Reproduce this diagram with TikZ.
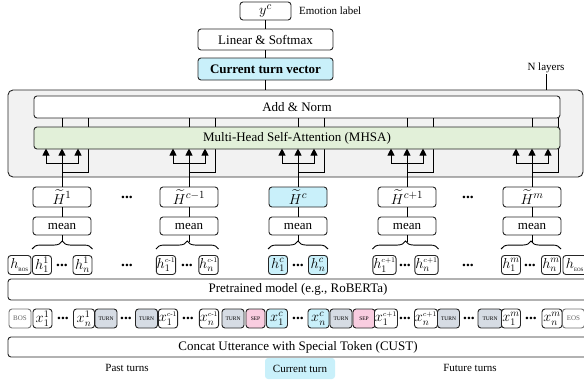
\documentclass[tikz,border=0pt]{standalone}
\usepackage{amsmath}
\usepackage{amssymb}
\usepackage{fontspec}
\setmainfont{Liberation Serif}
\usetikzlibrary{arrows.meta,calc,decorations.pathreplacing}
\definecolor{cyanfill}{HTML}{C9F0FA}
\definecolor{greenfill}{HTML}{E2F0D9}
\definecolor{turngray}{HTML}{D6DCE4}
\definecolor{seppink}{HTML}{F9CDE0}
\definecolor{layergray}{HTML}{F2F2F2}
\newcommand{\sss}[1]{{\scriptscriptstyle #1}}

\begin{document}
\begin{tikzpicture}[x=1pt,y=-1pt]
\tikzset{box/.style = {draw=black!85,rounded corners=3pt,line width=0.9pt,inner sep=1pt,font=\fontsize{13}{15}\selectfont}}
\tikzset{tok/.style = {box,fill=white,minimum width=19pt,minimum height=19pt,inner sep=0.4pt,font=\fontsize{14}{16}\selectfont}}
\tikzset{hvec/.style = {box,minimum width=58pt,minimum height=20pt,font=\fontsize{15}{17}\selectfont}}
\tikzset{special/.style = {tok,minimum width=22pt,font=\fontsize{5.5}{6}\selectfont}}
\tikzset{endtok/.style = {tok,draw=black!55,text=black!60,minimum width=22pt,font=\fontsize{7}{8}\selectfont}}
\tikzset{dots/.style = {inner sep=0pt,font=\fontsize{15.5}{17}\selectfont\bfseries}}
\tikzset{note/.style = {inner sep=1pt,font=\fontsize{11}{13}\selectfont}}
\tikzset{wire/.style = {line width=0.9pt}}
\tikzset{edge/.style = {-{Triangle[length=7pt,width=7pt]},line width=0.9pt}}
\useasboundingbox (0,0) rectangle (584,383);
% output head
\node[box,minimum width=51pt,minimum height=18pt,font=\fontsize{15}{17}\selectfont] (yc) at (265.5,11) {$y^c$};
\node[note,anchor=west] (emo) at (298,11) {Emotion label};
\node[box,minimum width=135pt,minimum height=21pt] (lin) at (265.5,39.5) {Linear \& Softmax};
\node[box,fill=cyanfill,minimum width=135pt,minimum height=22pt,font=\fontsize{13}{15}\selectfont\bfseries] (ctv) at (265.5,69) {Current turn vector};
\node[note] (nlay) at (546,68) {N layers};
% transformer layer
\node[box,fill=layergray,rounded corners=5pt,minimum width=575pt,minimum height=87pt] (layer) at (295.5,133.5) {};
\node[box,fill=white,minimum width=526pt,minimum height=22pt] (addn) at (297,107) {Add \& Norm};
\draw[wire] (yc) -- (lin);
\draw[wire] (lin) -- (ctv);
\draw[wire] (ctv) -- (layer.north -| ctv);
\draw[wire] (nlay.south) -- (layer.north -| nlay.south);
% turn vectors
\node[hvec] (Ha) at (62,197) {$\widetilde{H}^{1}$};
\node[hvec] (Hb) at (189,197) {$\widetilde{H}^{c-1}$};
\node[hvec,fill=cyanfill] (Hc) at (298,197) {$\widetilde{H}^{c}$};
\node[hvec] (Hd) at (407,197) {$\widetilde{H}^{c+1}$};
\node[hvec] (He) at (532,197) {$\widetilde{H}^{m}$};
\node[dots] (Hab) at (127,197) {...};
\node[dots] (Hde) at (468,197) {...};
% mean pooling
\node[box,minimum width=58pt,minimum height=18pt] (ma) at (62,226) {mean};
\node[box,minimum width=58pt,minimum height=18pt] (mb) at (189,226) {mean};
\node[box,minimum width=58pt,minimum height=18pt] (mc) at (298,226) {mean};
\node[box,minimum width=58pt,minimum height=18pt] (md) at (407,226) {mean};
\node[box,minimum width=58pt,minimum height=18pt] (me) at (532,226) {mean};
% hidden states
\node[tok,minimum width=23pt] (hbos) at (19.5,265) {$h_{\text{\fontsize{5}{5}\selectfont BOS}}$};
\node[tok] (ha-1) at (42,265) {$h_1^1$};
\node[dots] (ha-d) at (62,265) {...};
\node[tok] (ha-n) at (82.5,265) {$h_n^1$};
\node[dots] (hab) at (127,265) {...};
\node[tok] (hb-1) at (166,265) {$h_1^{\sss{c\text{-}1}}$};
\node[dots] (hb-d) at (187,265) {...};
\node[tok] (hb-n) at (208.5,265) {$h_n^{\sss{c\text{-}1}}$};
\node[tok,fill=cyanfill] (hc-1) at (278,265) {$h_1^c$};
\node[dots] (hc-d) at (298,265) {...};
\node[tok,fill=cyanfill] (hc-n) at (318,265) {$h_n^c$};
\node[tok] (hd-1) at (384.5,265) {$h_1^{\sss{c+1}}$};
\node[dots] (hd-d) at (405,265) {...};
\node[tok] (hd-n) at (426.5,265) {$h_n^{\sss{c+1}}$};
\node[dots] (hde) at (468,265) {...};
\node[tok] (he-1) at (511,265) {$h_1^m$};
\node[dots] (he-d) at (530,265) {...};
\node[tok] (he-n) at (551,265) {$h_n^m$};
\node[tok,anchor=west,minimum width=24pt] (heos) at (562.5,265) {$h_{\text{\fontsize{5}{5}\selectfont EOS}}$};
% pooling and residual wires
\foreach \g in {a,b,c,d,e} {
  \draw[wire] (H\g) -- (m\g);
  \draw[wire,decorate,decoration={brace,amplitude=8pt}] ($(h\g-1.north west)+(0,-6)$) -- ($(h\g-n.north east)+(0,-6)$);
  \draw[wire] (m\g.south) -- ++(0,7);
  \draw[wire] ($(H\g.north)+(0,-14)$) -- ++(26,0) -- ++(0,-55);
}
\node[box,fill=greenfill,minimum width=526pt,minimum height=22pt] (mhsa) at (297,138) {Multi-Head Self-Attention (MHSA)};
\foreach \g in {a,b,c,d,e} {
  \draw[wire] (H\g.north) -- ++(0,-23) coordinate (j\g);
  \draw[wire] ($(j\g)+(-16,0)$) -- ($(j\g)+(16,0)$);
  \foreach \dx in {-16,0,16} \draw[edge] ($(j\g)+(\dx,0)$) -- ++(0,-15);
  \draw[wire] (mhsa.north -| H\g) -- (addn.south -| H\g);
}
% encoder
\node[box,minimum width=580pt,minimum height=21pt] (ptm) at (298,289.5) {Pretrained model (e.g., RoBERTa)};
% input tokens
\node[endtok] (xbos) at (20,318.5) {BOS};
\node[tok] (xa-1) at (42.5,318.5) {$x_1^1$};
\node[dots] (xa-d) at (63,318.5) {...};
\node[tok,minimum width=21pt] (xa-n) at (84,318.5) {$x_n^1$};
\node[special,fill=turngray] (t1) at (106,318.5) {TURN};
\node[dots] (xab) at (126,318.5) {...};
\node[special,fill=turngray] (t2) at (146.5,318.5) {TURN};
\node[tok] (xb-1) at (168,318.5) {$x_1^{\sss{c\text{-}1}}$};
\node[dots] (xb-d) at (188,318.5) {...};
\node[tok] (xb-n) at (209,318.5) {$x_n^{\sss{c\text{-}1}}$};
\node[special,fill=turngray] (t3) at (233,318.5) {TURN};
\node[special,fill=seppink,minimum width=19pt] (s1) at (255.5,318.5) {SEP};
\node[tok,fill=cyanfill,minimum width=21pt] (xc-1) at (277,318.5) {$x_1^c$};
\node[dots] (xc-d) at (298,318.5) {...};
\node[tok,fill=cyanfill,minimum width=21pt] (xc-n) at (318.5,318.5) {$x_n^c$};
\node[special,fill=turngray] (t4) at (341,318.5) {TURN};
\node[special,fill=seppink] (s2) at (364,318.5) {SEP};
\node[tok] (xd-1) at (386,318.5) {$x_1^{\sss{c+1}}$};
\node[dots] (xd-d) at (405,318.5) {...};
\node[tok] (xd-n) at (426,318.5) {$x_n^{\sss{c+1}}$};
\node[special,fill=turngray] (t5) at (448.5,318.5) {TURN};
\node[dots] (xde) at (469,318.5) {...};
\node[special,fill=turngray,minimum width=24pt] (t6) at (490,318.5) {TURN};
\node[tok] (xe-1) at (511,318.5) {$x_1^m$};
\node[dots] (xe-d) at (531,318.5) {...};
\node[tok,minimum width=20pt] (xe-n) at (552,318.5) {$x_n^m$};
\node[endtok,anchor=west] (xeos) at (562,318.5) {EOS};
\node[box,minimum width=580pt,minimum height=20pt] (cust) at (298,347) {Concat Utterance with Special Token (CUST)};
% turn labels
\node[note] (past) at (127,368) {Past turns};
\node[note,fill=cyanfill,rounded corners=3pt,minimum width=70pt,minimum height=21pt] (cur) at (300,368.5) {Current turn};
\node[note] (fut) at (470,368) {Future turns};
\end{tikzpicture}
\end{document}
